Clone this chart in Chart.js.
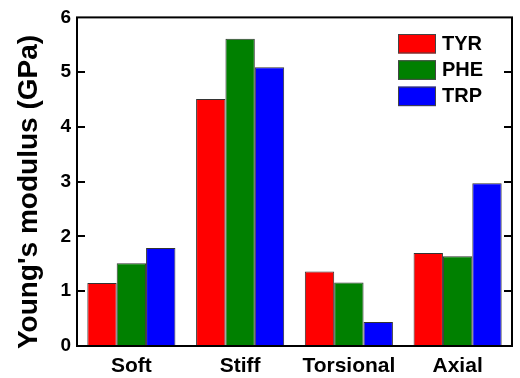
<!DOCTYPE html>
<html>
<head>
<meta charset="utf-8">
<script src="https://cdn.jsdelivr.net/npm/chart.js@4.4.1/dist/chart.umd.min.js"></script>
<style>
  html, body { margin: 0; padding: 0; background: #fff; }
  #wrap { width: 520px; height: 378px; position: relative; }
</style>
</head>
<body>
<div id="wrap"><canvas id="c" width="520" height="378"></canvas></div>
<script>
// Young's modulus per deformation mode, grouped by residue type
const categories = ['Soft', 'Stiff', 'Torsional', 'Axial'];
const seriesNames = ['TYR', 'PHE', 'TRP'];
const tyrValues = [1.15, 4.51, 1.36, 1.70];
const pheValues = [1.51, 5.61, 1.16, 1.64];
const trpValues = [1.79, 5.09, 0.44, 2.97];
const yTicks = [0, 1, 2, 3, 4, 5, 6];
const yTitle = "Young's modulus (GPa)";
const seriesColors = ['#ff0000', '#008000', '#0000ff'];

const FONT = '"Liberation Sans", Arial, sans-serif';

// Closed frame around the plot area with inward ticks on left and right sides
const framePlugin = {
  id: 'frame',
  afterDraw(chart) {
    const { ctx, chartArea: a, scales } = chart;
    const y = scales.y;
    ctx.save();
    ctx.strokeStyle = '#000';
    ctx.lineWidth = 2;
    ctx.strokeRect(a.left, a.top, a.right - a.left, a.bottom - a.top);
    yTicks.forEach(v => {
      if (v === yTicks[0] || v === yTicks[yTicks.length - 1]) return;
      const py = Math.round(y.getPixelForValue(v));
      ctx.beginPath();
      ctx.moveTo(a.left, py);
      ctx.lineTo(a.left + 8, py);
      ctx.moveTo(a.right, py);
      ctx.lineTo(a.right - 8, py);
      ctx.stroke();
    });
    ctx.restore();
  }
};

// Rotated axis title along the left edge
const yTitlePlugin = {
  id: 'yTitle',
  afterDraw(chart) {
    const { ctx } = chart;
    ctx.save();
    ctx.translate(29, 192);
    ctx.rotate(-Math.PI / 2);
    ctx.font = 'bold 28px ' + FONT;
    ctx.fillStyle = '#000';
    ctx.textAlign = 'center';
    ctx.textBaseline = 'middle';
    ctx.fillText(yTitle, 0, 0);
    ctx.restore();
  }
};

// Legend box in the upper-right corner of the plot
const legendPlugin = {
  id: 'insideLegend',
  afterDraw(chart) {
    const { ctx } = chart;
    ctx.save();
    ctx.font = 'bold 20px ' + FONT;
    ctx.textBaseline = 'middle';
    chart.data.datasets.forEach((ds, i) => {
      const x = 398, yTop = 34 + i * 26.3;
      ctx.fillStyle = ds.backgroundColor;
      ctx.fillRect(x, yTop, 38, 19.5);
      ctx.strokeStyle = '#444';
      ctx.lineWidth = 1;
      ctx.strokeRect(x + 0.5, yTop + 0.5, 37, 18.5);
      ctx.fillStyle = '#000';
      ctx.fillText(ds.label, 442, yTop + 10);
    });
    ctx.restore();
  }
};

const valueSets = [tyrValues, pheValues, trpValues];

new Chart(document.getElementById('c'), {
  type: 'bar',
  data: {
    labels: categories,
    datasets: seriesNames.map((name, i) => ({
      label: name,
      data: valueSets[i],
      backgroundColor: seriesColors[i],
      borderColor: '#333',
      borderWidth: 1,
      borderSkipped: 'bottom',
      categoryPercentage: 0.81,
      barPercentage: 1.0
    }))
  },
  options: {
    responsive: false,
    animation: false,
    devicePixelRatio: 1,
    layout: { padding: { top: 16, right: 8, left: 0, bottom: 0 } },
    plugins: { legend: { display: false }, tooltip: { enabled: false } },
    scales: {
      x: {
        grid: { display: false, drawTicks: false },
        border: { display: false },
        ticks: { color: '#000', font: { family: FONT, size: 21, weight: 'bold' }, padding: 8 },
        afterFit(s) { s.height = 32; }
      },
      y: {
        min: 0,
        max: 6,
        afterBuildTicks(s) { s.ticks = yTicks.map(v => ({ value: v })); },
        grid: { display: false, drawTicks: false },
        border: { display: false },
        ticks: { color: '#000', font: { family: FONT, size: 19, weight: 'bold' }, padding: 6 },
        afterFit(s) { s.width = 77; }
      }
    }
  },
  plugins: [framePlugin, legendPlugin, yTitlePlugin]
});
</script>
</body>
</html>
